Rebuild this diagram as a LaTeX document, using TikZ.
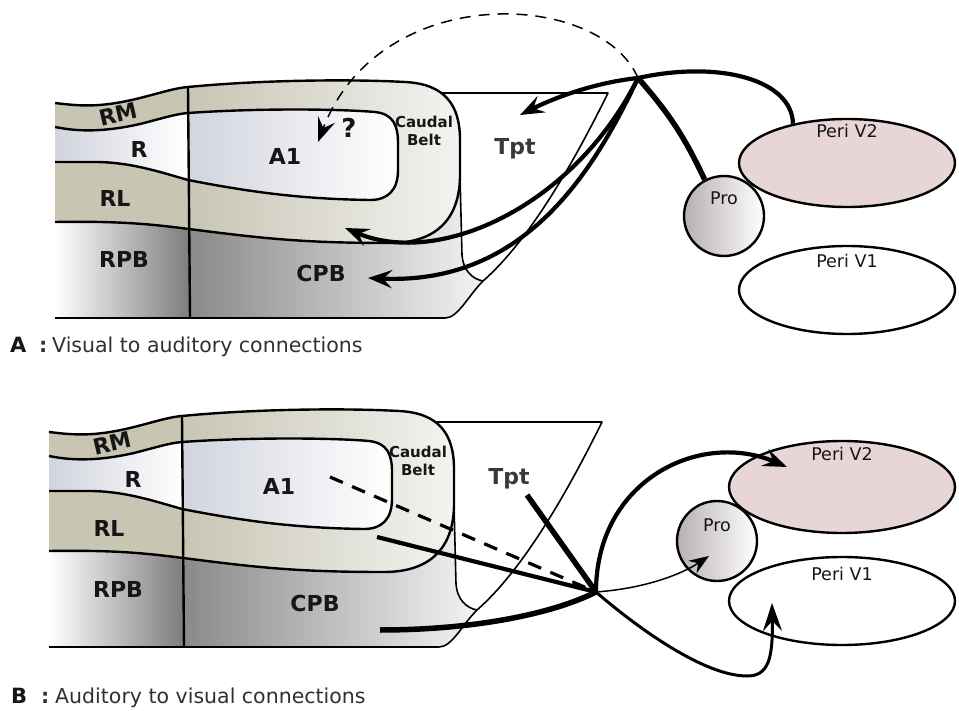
\documentclass[tikz,border=0pt]{standalone}
\usepackage{fontspec}
\setmainfont{DejaVu Sans}
\usetikzlibrary{arrows.meta,positioning,shapes.geometric}
\definecolor{ink}{HTML}{161616}
\definecolor{capgrau}{HTML}{303030}
\definecolor{khaki}{HTML}{C8C5B3}
\definecolor{khakihell}{HTML}{F3F3F1}
\definecolor{blaugrau}{HTML}{D2D4DE}
\definecolor{pbgrau}{HTML}{7C7C7C}
\definecolor{pbhell}{HTML}{F2F3F5}
\definecolor{rosa}{HTML}{E8D6D6}
\definecolor{prograu}{HTML}{B8B0B3}
\newcommand{\lbl}{\fontsize{22}{26}\selectfont\bfseries}
\newcommand{\beltlbl}{\fontsize{15}{18}\selectfont\bfseries}
\newcommand{\perilbl}{\fontsize{17.5}{20}\selectfont}
\newcommand{\caplbl}{\fontsize{20.5}{24}\selectfont}
\tikzset{rand/.style={line width=2.4pt,line join=round},
  tptrand/.style={line width=1.6pt,line join=round},
  region/.style={anchor=base,inner sep=0,text=ink,font=\lbl},
  beltshade/.style={left color=khaki,right color=khakihell},
  rshade/.style={left color=blaugrau,right color=white},
  aoneshade/.style={left color=blaugrau,right color=white},
  rpbshade/.style={left color=white,right color=pbgrau},
  cpbshade/.style={left color=pbgrau!90!white,right color=pbhell},
  periv/.style={ellipse,draw,line width=2.4pt,inner sep=0,minimum width=216pt,minimum height=88pt},
  pro/.style={circle,draw,line width=2.4pt,inner sep=0,minimum size=80pt,left color=prograu,right color=white},
  peritext/.style={inner sep=0,anchor=north,font=\perilbl,text=ink},
  spitze/.style={-{Stealth[length=24pt,width=18pt,inset=9pt]}},
  bahn/.style={line width=4.2pt},
  bahndick/.style={line width=5.5pt},
  strich/.style={line width=1.5pt,dash pattern=on 11pt off 8pt},
  strichdick/.style={line width=3.2pt,dash pattern=on 14pt off 10pt}}
\newcommand{\cortexmap}{%
\shade[cpbshade] (189,175) -- (460,175) -- (462,255) .. controls (463,270) and (472,279) .. (483,281) .. controls (468,296) and (458,318) .. (445,318) -- (190,318) -- cycle;
\shade[rpbshade] (55,222) .. controls (120,221) and (150,224) .. (189,229) -- (190,318) -- (55,318) -- cycle;
\fill[khaki] (55,103) .. controls (80,106) and (100,108) .. (140,98) .. controls (160,93) and (175,88) .. (188,87) -- (189,229) .. controls (150,224) and (120,221) .. (55,222) -- cycle;
\shade[beltshade] (188,87) .. controls (260,80) and (350,79) .. (405,82) .. controls (445,84) and (460,105) .. (460,140) -- (460,175) .. controls (460,215) and (440,243) .. (390,243) .. controls (300,243) and (260,238) .. (189,229) -- cycle;
\shade[rshade] (55,127) .. controls (75,131) and (100,133) .. (140,124) .. controls (160,119) and (175,114) .. (188,113) -- (188,180) .. controls (160,172) and (130,162) .. (95,162) -- (55,162) -- cycle;
\shade[aoneshade] (188,113) .. controls (260,108) and (340,109) .. (375,112) .. controls (393,114) and (398,125) .. (398,143) -- (398,170) .. controls (398,190) and (388,200) .. (370,200) .. controls (300,199) and (250,192) .. (188,180) -- cycle;
\draw[rand] (55,103) .. controls (80,106) and (100,108) .. (140,98) .. controls (160,93) and (175,88) .. (188,87) .. controls (260,80) and (350,79) .. (405,82) .. controls (445,84) and (460,105) .. (460,140) -- (460,175) .. controls (460,215) and (440,243) .. (390,243) .. controls (300,243) and (260,238) .. (189,229) .. controls (150,224) and (120,221) .. (55,222);
\draw[rand] (55,127) .. controls (75,131) and (100,133) .. (140,124) .. controls (160,119) and (175,114) .. (188,113) .. controls (260,108) and (340,109) .. (375,112) .. controls (393,114) and (398,125) .. (398,143) -- (398,170) .. controls (398,190) and (388,200) .. (370,200) .. controls (300,199) and (250,192) .. (188,180) .. controls (160,172) and (130,162) .. (95,162) -- (55,162);
\draw[rand] (188,87) -- (190,318);
\draw[rand] (55,318) -- (445,318);
\draw[tptrand] (445,318) .. controls (458,318) and (468,296) .. (483,281) .. controls (530,240) and (575,160) .. (608,93) -- (441,93);
\draw[tptrand] (460,175) -- (462,255) .. controls (463,270) and (472,279) .. (483,281);
\node[region,rotate=13] (rm) at (120,122) {RM};
\node[region] (r) at (139,158) {R};
\node[region] (aone) at (285,165) {A1};
\node[region] (rl) at (115,207) {RL};
\node[region] (rpb) at (124,268) {RPB};
\node[region] (cpb) at (321,282) {CPB};
\node[region,text=ink!85] (tpt) at (515,155) {Tpt};
\node[region,font=\beltlbl,align=center] (belt) at (424,146) {Caudal\\Belt};
}
\begin{document}
\begin{tikzpicture}[x=1pt,y=-1pt]
\useasboundingbox (0,0) rectangle (959,711);
\begin{scope}[name prefix=a-]
\cortexmap
\end{scope}
\begin{scope}[name prefix=b-,shift={(-6,329)}]
\cortexmap
\end{scope}
\node[region,font=\fontsize{26}{28}\selectfont\bfseries] (frage) at (349,138) {?};
\node[periv,fill=rosa] (vzweiA) at (847,163) {};
\node[periv] (veinsA) at (847,290) {};
\node[pro] (proA) at (724,216) {};
\node[peritext,below=6pt of vzweiA.north] {Peri V2};
\node[peritext,below=9pt of veinsA.north] {Peri V1};
\node[peritext,below=17pt of proA.north] {Pro};
\coordinate (hubA) at (638,78);
\coordinate (zielaone) at (318,142);
\coordinate (zieltpt) at (520,115);
\coordinate (zielbelt) at (345,228);
\coordinate (zielcpb) at (368,278);
\draw[strich,spitze] (hubA) .. controls (600,-10) and (380,-20) .. (zielaone);
\draw[bahn,spitze] (hubA) .. controls (600,82) and (560,95) .. (zieltpt);
\draw[bahn,spitze] (hubA) .. controls (575,205) and (440,268) .. (zielbelt);
\draw[bahn,spitze] (hubA) .. controls (590,180) and (520,285) .. (zielcpb);
\draw[bahn] (hubA) .. controls (720,60) and (792,80) .. (vzweiA.144);
\draw[bahndick] (hubA) to[bend left=8] (proA.118);
\node[periv,fill=rosa,minimum width=226pt,minimum height=92pt] (vzweiB) at (842,487) {};
\node[periv,minimum width=226pt] (veinsB) at (842,601) {};
\node[pro] (proB) at (717,541) {};
\node[peritext,below=7pt of vzweiB.north] {Peri V2};
\node[peritext,below=11pt of veinsB.north] {Peri V1};
\node[peritext,below=19pt of proB.north] {Pro};
\coordinate (hubB) at (596,592);
\coordinate (startaone) at (330,477);
\coordinate (startrl) at (377,537);
\coordinate (startcpb) at (380,630);
\coordinate (starttpt) at (527,495);
\coordinate (zielvzwei) at (787,467);
\coordinate (zielpro) at (709,556);
\coordinate (zielveins) at (772,603);
\draw[strichdick] (startaone) -- (hubB);
\draw[bahn] (startrl) -- (hubB);
\draw[bahndick] (startcpb) .. controls (470,630) and (550,615) .. (hubB);
\draw[bahndick] (starttpt) -- (hubB);
\draw[bahn,spitze] (hubB) .. controls (596,480) and (700,430) .. (zielvzwei);
\draw[line width=1.5pt,-{Stealth[length=20pt,width=15pt,inset=7pt]}] (hubB) .. controls (650,588) and (685,572) .. (zielpro);
\draw[line width=3pt,-{Stealth[length=28pt,width=19pt,inset=10pt]}] (hubB) .. controls (640,630) and (705,676) .. (747,676) .. controls (768,676) and (773,660) .. (zielveins);
\node[anchor=base west,inner sep=0,font=\fontsize{21}{24}\selectfont\bfseries,text=ink] (capa) at (10,353) {A};
\node[anchor=base west,inner sep=0,font=\caplbl\bfseries,text=capgrau] (colona) at (39,353) {:};
\node[anchor=base west,inner sep=0,font=\caplbl,text=capgrau] (texta) at (52,353) {Visual to auditory connections};
\node[anchor=base west,inner sep=0,font=\fontsize{21}{24}\selectfont\bfseries,text=ink] (capb) at (11,703) {B};
\node[anchor=base west,inner sep=0,font=\caplbl\bfseries,text=capgrau] (colonb) at (41,703) {:};
\node[anchor=base west,inner sep=0,font=\caplbl,text=capgrau] (textb) at (55,703) {Auditory to visual connections};
\end{tikzpicture}
\end{document}
